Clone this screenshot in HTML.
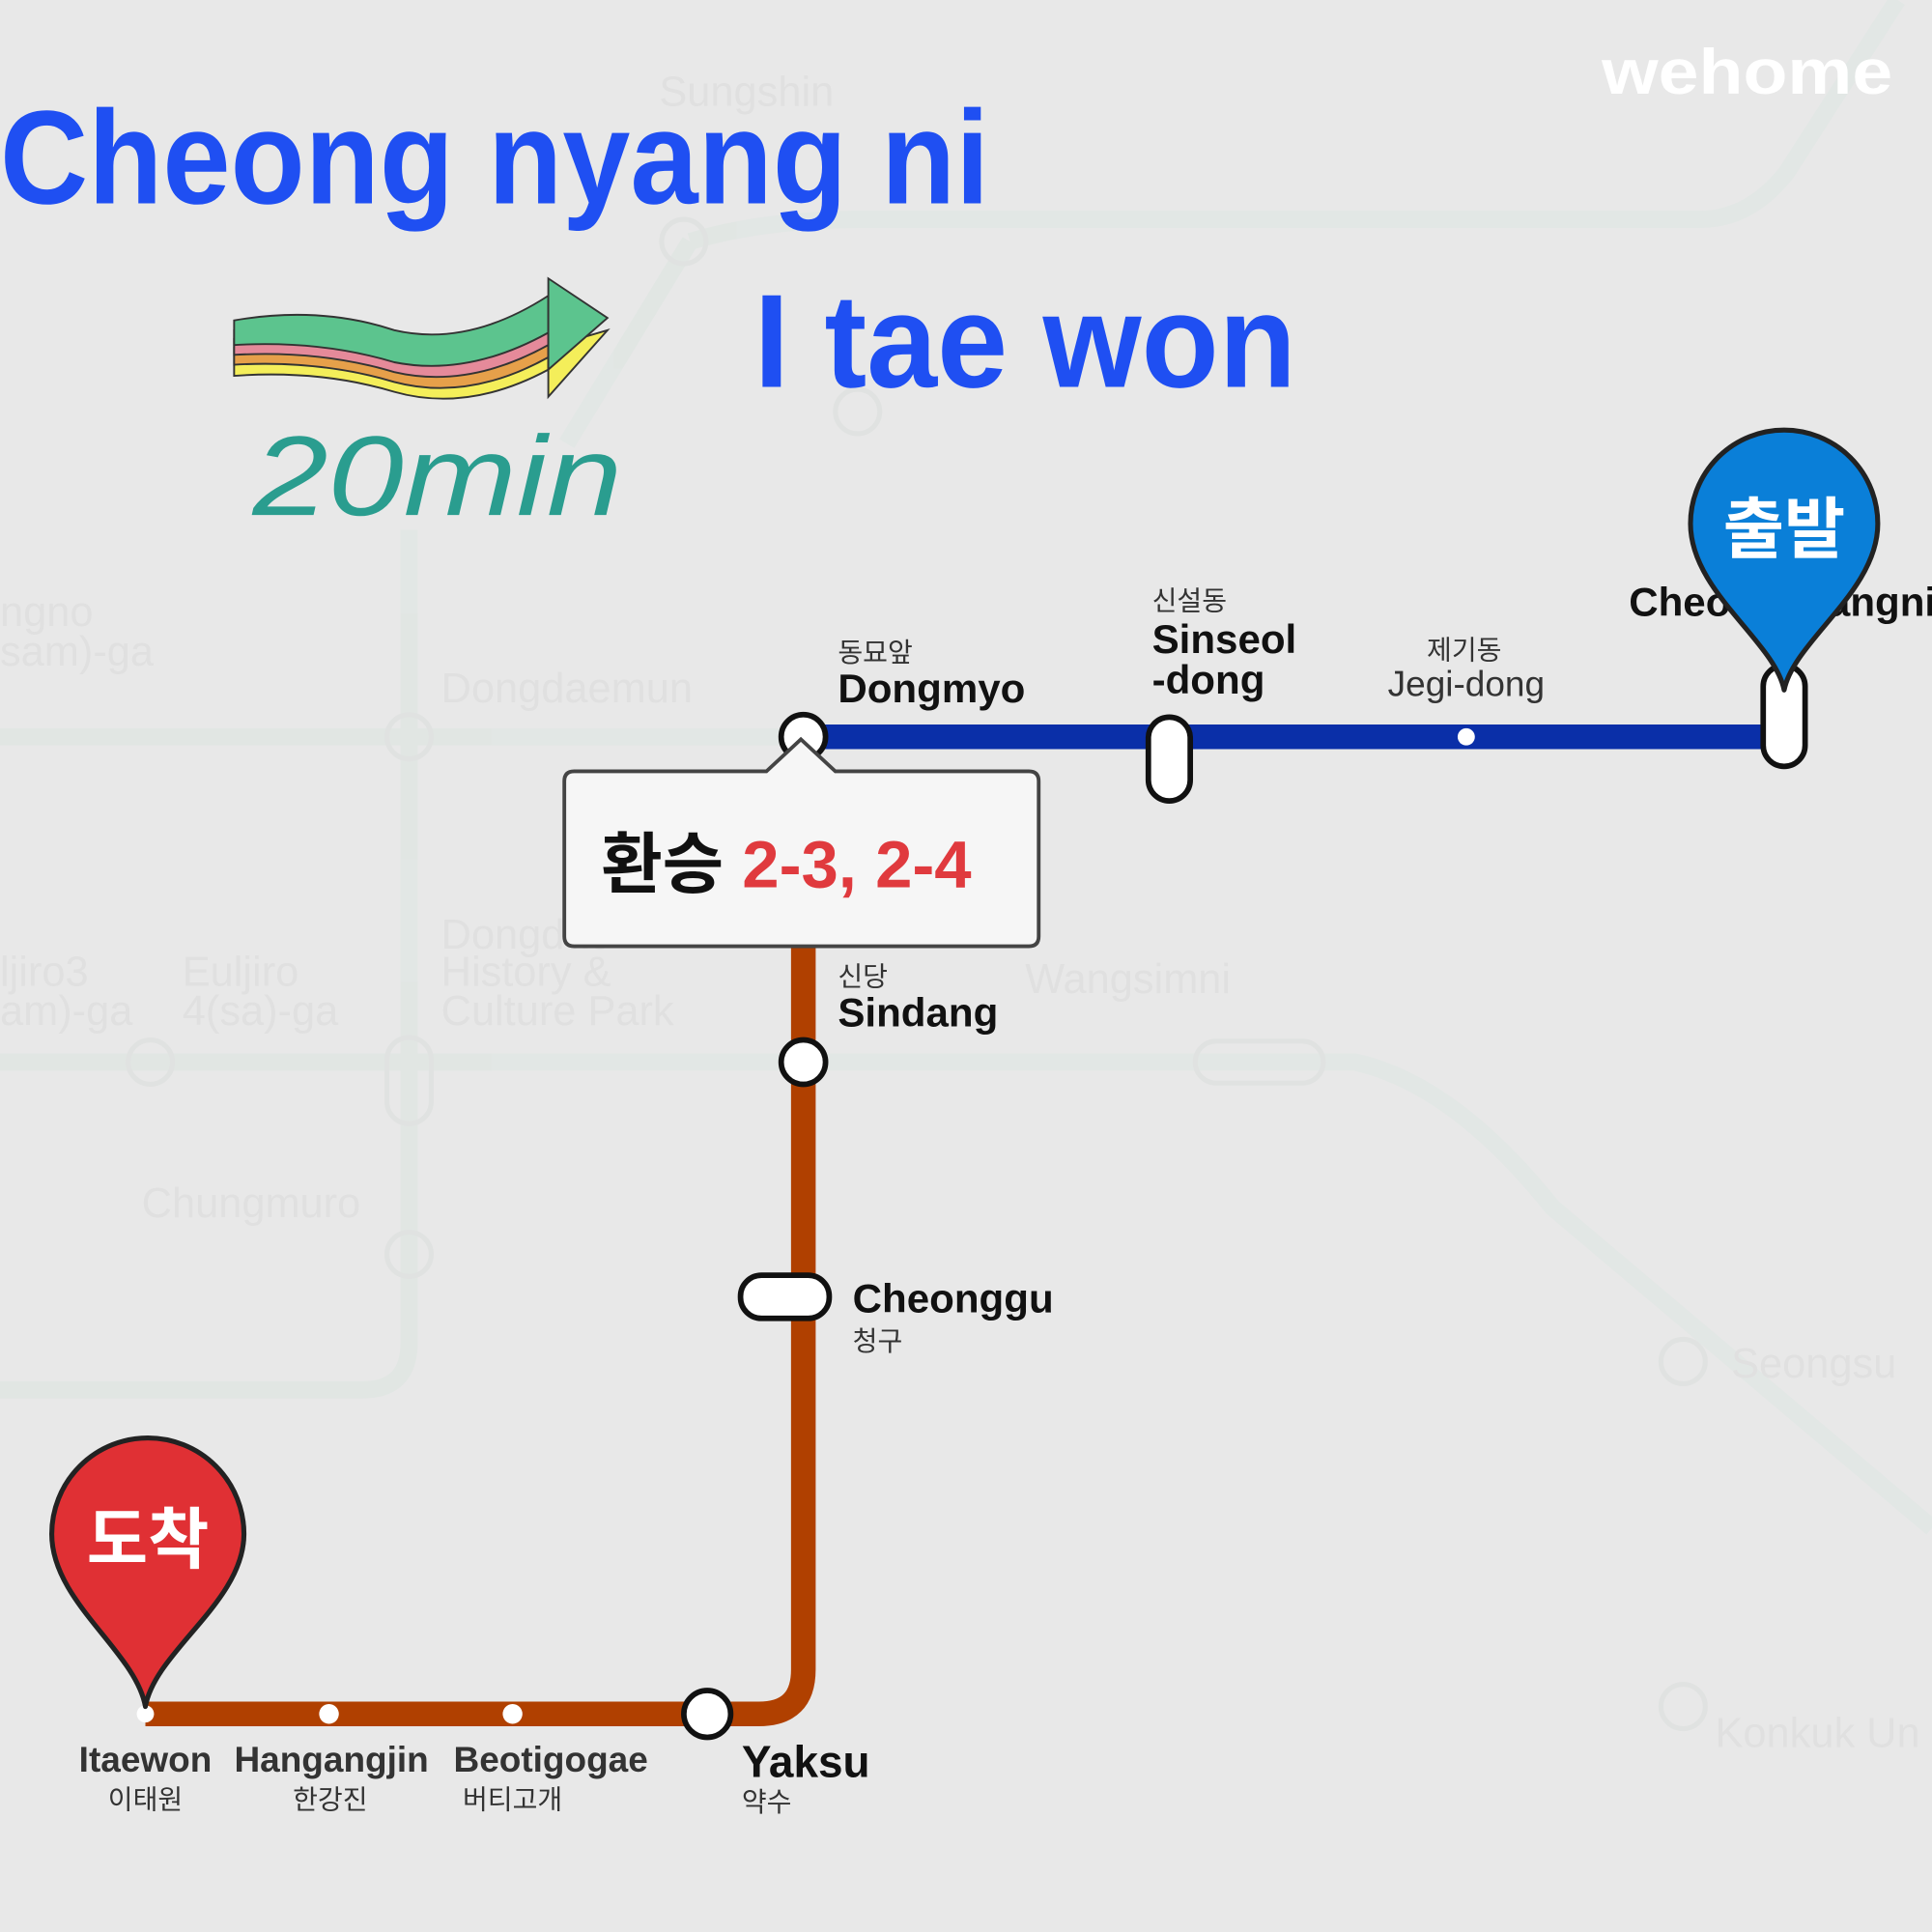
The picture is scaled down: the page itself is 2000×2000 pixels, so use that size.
<!DOCTYPE html>
<html><head><meta charset="utf-8"><style>
html,body{margin:0;padding:0;background:#e8e8e8;}
svg{display:block}
text{font-family:"Liberation Sans","Noto Sans CJK KR",sans-serif;}
</style></head><body>
<svg width="2000" height="2000" viewBox="0 0 1568 1568" xmlns="http://www.w3.org/2000/svg">
<rect width="1568" height="1568" fill="#e8e8e8"/>
<!-- ghost map -->
<g fill="none" stroke="#e0e6e3" stroke-width="14" opacity="0.8">
<path d="M0 598 H652"/>
<path d="M332 430 V1090 Q332 1128 294 1128 H0"/>
<path d="M0 862 H1100 Q1180 880 1260 980 L1568 1240"/>
<path d="M560 196 Q620 178 700 178 H1380 Q1420 178 1450 140 L1540 0"/>
<path d="M560 196 L460 360"/>
</g>
<g fill="none" stroke="#e0e2e1" stroke-width="4">
<circle cx="555" cy="196" r="18"/><circle cx="696" cy="334" r="18"/><circle cx="332" cy="598" r="18"/>
<circle cx="122" cy="862" r="18"/><rect x="314" y="842" width="36" height="70" rx="18"/><circle cx="332" cy="1018" r="18"/>
<rect x="970" y="845" width="104" height="34" rx="17"/><circle cx="1366" cy="1105" r="18"/><circle cx="1366" cy="1385" r="18"/>
</g>
<g fill="#e0e0e0" font-size="34">
<text x="535" y="86">Sungshin</text><text x="0" y="508">ngno</text><text x="0" y="540">sam)-ga</text>
<text x="358" y="570">Dongdaemun</text><text x="358" y="770">Dongdae</text><text x="358" y="800">History &amp;</text><text x="358" y="832">Culture Park</text>
<text x="0" y="800">ljiro3</text><text x="0" y="832">am)-ga</text><text x="148" y="800">Euljiro</text><text x="148" y="832">4(sa)-ga</text>
<text x="115" y="988">Chungmuro</text><text x="832" y="806">Wangsimni</text><text x="1405" y="1118">Seongsu</text><text x="1392" y="1418">Konkuk Un</text>
</g>
<!-- titles -->
<text x="0" y="165" font-size="108" font-weight="bold" fill="#1f4ff2" textLength="803" lengthAdjust="spacingAndGlyphs">Cheong nyang ni</text>
<text x="612" y="314" font-size="108" font-weight="bold" fill="#1f4ff2" textLength="440" lengthAdjust="spacingAndGlyphs">I tae won</text>
<text x="1300" y="76" font-size="52" font-weight="bold" fill="#ffffff" textLength="236" lengthAdjust="spacingAndGlyphs">wehome</text>
<!-- rainbow arrow -->
<g stroke="#333" stroke-width="1.5">
<path d="M190 282 Q260 268 320 290 Q380 305 445 262 L445 300 Q380 335 320 318 Q260 300 190 305Z" fill="#f4ee5a"/>
<path d="M190 275 Q260 262 320 283 Q380 298 445 255 L445 290 Q380 326 320 310 Q260 292 190 296Z" fill="#e6a04a"/>
<path d="M190 268 Q260 256 320 276 Q380 290 445 248 L445 280 Q380 316 320 302 Q260 284 190 288Z" fill="#e58a9a"/>
<path d="M190 260 Q260 248 320 268 Q380 282 445 240 L445 270 Q380 306 320 294 Q260 276 190 280Z" fill="#5cc48e"/>
<path d="M445 282 L493 268 L445 322Z" fill="#f4ee5a"/>
<path d="M445 226 L493 258 L445 300Z" fill="#5cc48e"/>
</g>
<text x="205" y="418" font-size="92" font-style="italic" fill="#2a9d8f" font-family="Liberation Serif,serif" textLength="300" lengthAdjust="spacingAndGlyphs">20min</text>
<!-- blue line -->
<line x1="652" y1="598" x2="1448" y2="598" stroke="#0a2fa8" stroke-width="20"/>
<!-- brown line -->
<path d="M652 768 V1355 Q652 1391 616 1391 H118" fill="none" stroke="#b04000" stroke-width="20"/>
<!-- stations -->
<g fill="#fff" stroke="#111" stroke-width="4.5">
<circle cx="652" cy="598" r="18"/>
<rect x="932" y="582" width="34" height="68" rx="17"/>
<rect x="1431" y="540" width="34" height="82" rx="17"/>
<circle cx="652" cy="862" r="18"/>
<rect x="601" y="1035" width="72" height="35" rx="17"/>
<circle cx="574" cy="1391" r="19"/>
</g>
<g fill="#fff"><circle cx="1190" cy="598" r="7"/><circle cx="267" cy="1391" r="8"/><circle cx="416" cy="1391" r="8"/><circle cx="118" cy="1391" r="7"/></g>
<!-- callout -->
<path d="M466 626 H622 L650 600 L678 626 H835 Q843 626 843 634 V760 Q843 768 835 768 H466 Q458 768 458 760 V634 Q458 626 466 626Z" fill="#f6f6f6" stroke="#444" stroke-width="3"/>
<text x="488" y="720" font-size="54" font-weight="bold" fill="#111">환승 <tspan fill="#e03a3e">2-3, 2-4</tspan></text>
<!-- labels -->
<g fill="#111" font-weight="bold" font-size="33">
<text x="680" y="570">Dongmyo</text>
<text x="935" y="530">Sinseol</text><text x="935" y="563">-dong</text>
<text x="1322" y="500">Cheongnyangni</text>
<text x="680" y="833">Sindang</text>
<text x="692" y="1065">Cheonggu</text>
<text x="602" y="1442" font-size="36">Yaksu</text>
</g>
<g fill="#333" font-size="22">
<text x="680" y="537">동묘앞</text><text x="935" y="495">신설동</text><text x="1158" y="535">제기동</text>
<text x="680" y="800">신당</text><text x="692" y="1096">청구</text><text x="602" y="1470">약수</text>
<text x="118" y="1468" text-anchor="middle">이태원</text><text x="268" y="1468" text-anchor="middle">한강진</text><text x="416" y="1468" text-anchor="middle">버티고개</text>
</g>
<g fill="#333" font-size="29" font-weight="bold" text-anchor="middle">
<text x="1190" y="565" font-weight="normal">Jegi-dong</text>
<text x="118" y="1438">Itaewon</text><text x="269" y="1438">Hangangjin</text><text x="447" y="1438">Beotigogae</text>
</g>
<!-- pins -->
<path d="M1448 560 C1440 520 1372 480 1372 425 A76 76 0 1 1 1524 425 C1524 480 1456 520 1448 560 Z" fill="#0a7fd8" stroke="#222" stroke-width="4" stroke-linejoin="round"/>
<text x="1448" y="448" font-size="54" font-weight="bold" fill="#fff" text-anchor="middle">출발</text>
<path d="M118 1385 C110 1340 42 1300 42 1245 A78 78 0 1 1 198 1245 C198 1300 126 1340 118 1385 Z" fill="#e03034" stroke="#222" stroke-width="4" stroke-linejoin="round"/>
<text x="120" y="1268" font-size="54" font-weight="bold" fill="#fff" text-anchor="middle">도착</text>
</svg>
</body></html>
